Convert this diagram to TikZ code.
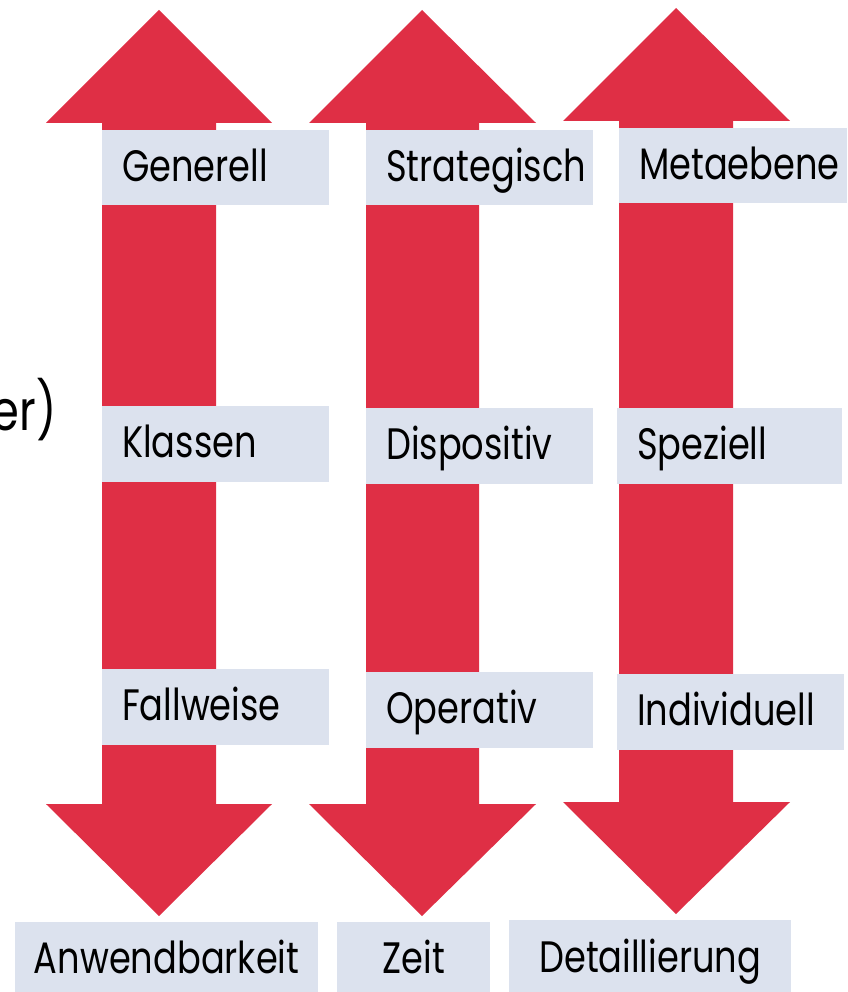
\documentclass[tikz,border=0pt]{standalone}
\usepackage{fontspec}
\setmainfont[FakeStretch=0.8]{Poppins}
\definecolor{arrred}{RGB}{223,47,69}
\definecolor{boxbg}{RGB}{220,226,238}
\begin{document}
\begin{tikzpicture}[x=1pt,y=-1pt,
  arrowshape/.style={fill=arrred,draw=none},
  lbl/.style={fill=boxbg,draw=none,anchor=north west,inner xsep=20pt,inner ysep=0pt,
    font=\fontsize{44}{50}\selectfont,text height=35pt,text depth=8pt,align=left},
  lblc/.style={fill=boxbg,draw=none,anchor=north west,inner xsep=0pt,inner ysep=0pt,
    font=\fontsize{44}{50}\selectfont,text height=38pt,text depth=6pt,align=center}]
\useasboundingbox (0,0) rectangle (847,992);
% arrows
\fill[arrowshape] (159,10) -- (272,123) -- (216,123) -- (216,804) -- (272,804) -- (159,916)
  -- (46,804) -- (102,804) -- (102,123) -- (46,123) -- cycle;
\fill[arrowshape] (422,10) -- (536,123) -- (479,123) -- (479,804) -- (536,804) -- (422,916)
  -- (309,804) -- (366,804) -- (366,123) -- (309,123) -- cycle;
\fill[arrowshape] (676,8) -- (790,121) -- (733,121) -- (733,802) -- (790,802) -- (676,914)
  -- (563,802) -- (619,802) -- (619,121) -- (563,121) -- cycle;
% labels
\node[lbl,minimum width=227pt,minimum height=75pt,text width=187pt] (gen) at (102,130) {Generell};
\node[lbl,minimum width=227pt,minimum height=75pt,text width=187pt] (str) at (366,130) {Strategisch};
\node[lbl,minimum width=228pt,minimum height=75pt,text width=188pt] (met) at (619,128) {Metaebene};
\node[lbl,minimum width=227pt,minimum height=76pt,text width=187pt] (kla) at (102,406) {Klassen};
\node[lbl,minimum width=227pt,minimum height=76pt,text width=187pt] (dis) at (366,408) {Dispositiv};
\node[lbl,minimum width=225pt,minimum height=76pt,text width=185pt] (spe) at (617,408) {Speziell};
\node[lbl,minimum width=227pt,minimum height=76pt,text width=187pt] (fal) at (102,669) {Fallweise};
\node[lbl,minimum width=227pt,minimum height=76pt,text width=187pt] (ope) at (366,672) {Operativ};
\node[lbl,minimum width=227pt,minimum height=76pt,text width=187pt] (ind) at (617,674) {Individuell};
\node[lblc,minimum width=303pt,minimum height=70pt,text width=303pt] (anw) at (15,922) {Anwendbarkeit};
\node[lblc,minimum width=153pt,minimum height=70pt,text width=153pt] (zei) at (337,922) {Zeit};
\node[lblc,minimum width=282pt,minimum height=72pt,text width=282pt] (det) at (509,920) {Detaillierung};
% cut-off text
\node[anchor=base east,inner sep=0pt,font=\fontsize{56}{60}\selectfont] (cut) at (57,430) {er)};
\end{tikzpicture}
\end{document}
